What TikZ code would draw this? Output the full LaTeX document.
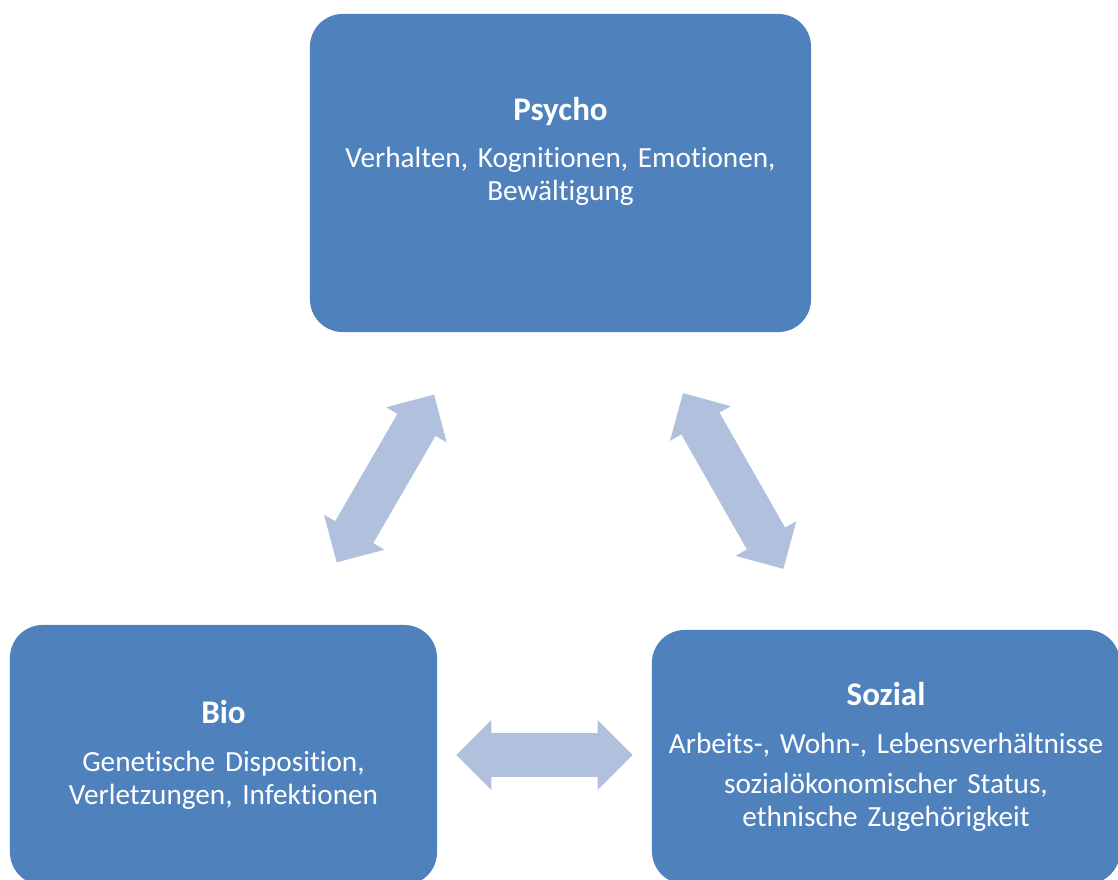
\documentclass[tikz,border=0pt]{standalone}
\usepackage{fontspec}
\setmainfont{Carlito}[Ligatures=NoCommon, WordSpace=0.8]
\definecolor{bpsblue}{RGB}{79,129,189}
\definecolor{bpslight}{RGB}{177,193,221}
\usepackage{tikz}
\usetikzlibrary{arrows.meta,calc}
\newcommand{\bpstitle}[1]{{\fontsize{23.5}{23.5}\selectfont\bfseries #1}}

\begin{document}
\begin{tikzpicture}[x=0.025cm, y=-0.025cm,
    bpsbox/.style={rounded corners=0.82cm, fill=bpsblue, draw=none,
                text=white, align=center, inner sep=0.1cm,
                font=\fontsize{20.8}{23.5}\selectfont},
    bpsarrow/.style={draw=bpslight, line width=1.1cm,
                {Triangle[length=0.875cm,width=1.75cm,line width=0pt]}-{Triangle[length=0.875cm,width=1.75cm,line width=0pt]}}
  ]
    \useasboundingbox (0,0) rectangle (1118,880);
    \clip (0,0) rectangle (1118,880);

    \node[bpsbox, minimum width=12.525cm, minimum height=7.95cm, text width=12.3cm] (psycho) at (560.5,173)
      {\bpstitle{Psycho}\\[10pt]
       Verhalten, Kognitionen, Emotionen,\\ Bewältigung\\[10.5pt]\mbox{}};
    \node[bpsbox, minimum width=10.675cm, minimum height=6.5cm, text width=10.45cm] (bio) at (223.5,755)
      {\bpstitle{Bio}\\[11pt]
       Genetische Disposition,\\ Verletzungen, Infektionen};
    \node[bpsbox, minimum width=11.7cm, minimum height=6.35cm, text width=11.45cm] (sozial) at (886,757)
      {\bpstitle{Sozial}\\[10pt]
       Arbeits-, Wohn-, Lebensverhältnisse\\[5pt]
       sozialökonomischer Status,\\ ethnische Zugehörigkeit};

    \draw[bpsarrow, shorten <=1.8cm, shorten >=1.8cm]
      ($(bio.north west)!0.68!(bio.north east)$) -- ($(psycho.south west)!0.32!(psycho.south east)$);
    \draw[bpsarrow, shorten <=1.75cm, shorten >=1.75cm]
      ($(psycho.south west)!0.675!(psycho.south east)$) -- ($(sozial.north west)!0.355!(sozial.north east)$);
    \draw[bpsarrow, shorten <=0.475cm, shorten >=0.475cm]
      (bio.east) -- (bio.east -| sozial.west);
  \end{tikzpicture}
\end{document}
